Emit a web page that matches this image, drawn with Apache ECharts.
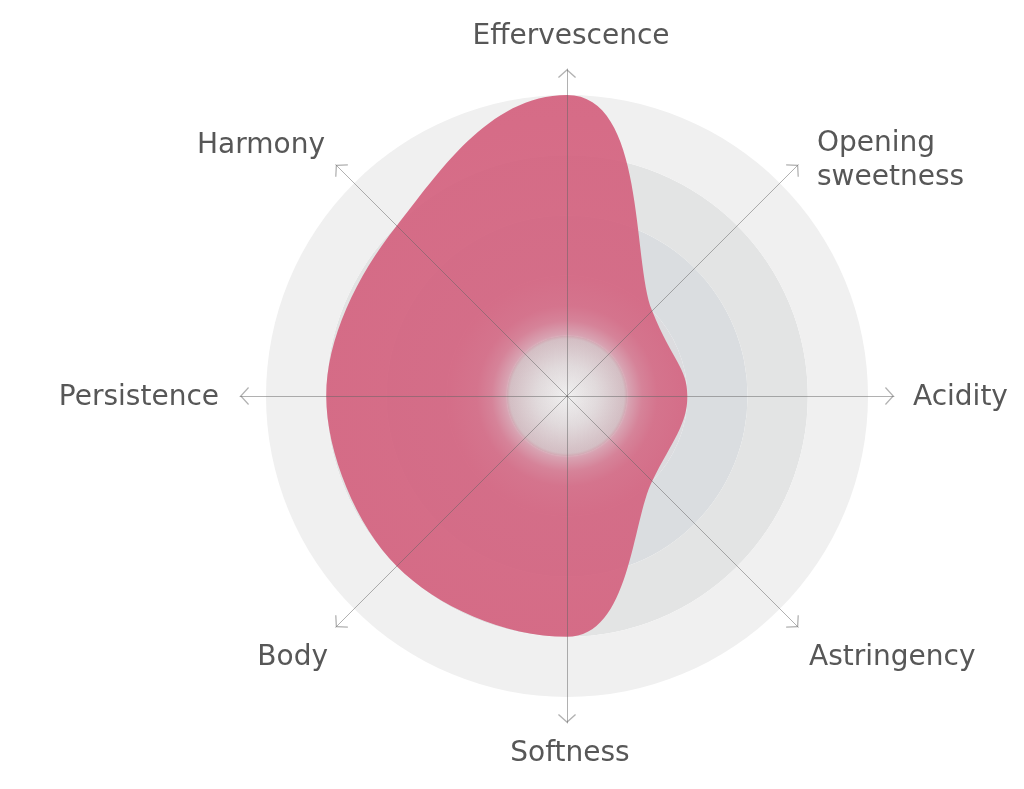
<!DOCTYPE html>
<html><head><meta charset="utf-8">
<script src="https://cdn.jsdelivr.net/npm/echarts@6/dist/echarts.min.js"></script>
<style>html,body{margin:0;background:#fff}#c{width:1024px;height:789px}</style>
</head><body><div id="c"></div>
<script>
// ---- data ----
const categories = ['Effervescence', 'Opening\nsweetness', 'Acidity', 'Astringency', 'Softness', 'Body', 'Persistence', 'Harmony'];
const values = [5, 2, 2, 2, 4, 4, 4, 4];
const maxValue = 5;
const ringColors = ['#d9d9d9', '#dcdcdf', '#dadde0', '#e3e4e4', '#f0f0f0'];

// ---- layout ----
const CX = 567, CY = 396, R = 301, AXIS_R = 327;
const labelLayout = [
  [571, 37, 'center'], [817, 161, 'left'], [913, 398, 'left'], [809, 658, 'left'],
  [570, 754, 'center'], [328, 658, 'right'], [219, 398, 'right'], [325, 146, 'right']
];
const PINK = '211,93,123';

const chart = echarts.init(document.getElementById('c'));
const step = 360 / categories.length;
const seriesData = values.map((v, i) => [v, i * step]);

function f(p) { return p[0].toFixed(2) + ',' + p[1].toFixed(2); }

function renderShape(params, api) {
  if (params.dataIndex !== 0) return null;
  const pts = seriesData.map(d => api.coord(d));
  const c = api.coord([0, 0]);
  const edge = api.coord([maxValue, 0]);
  const rad = Math.hypot(edge[0] - c[0], edge[1] - c[1]);
  const n = pts.length;
  const dTheta = 2 * Math.PI / n;
  // tangents: Catmull-Rom, but circular (perpendicular to radius) at peaks
  const tan = pts.map((p, i) => {
    const prev = (i - 1 + n) % n, next = (i + 1) % n;
    const v = values[i], vp = values[prev], vn = values[next];
    if (v >= vp && v >= vn && (v > vp || v > vn)) {
      const rx = p[0] - c[0], ry = p[1] - c[1];
      const len = Math.hypot(rx, ry);
      const mag = len * dTheta;
      return [-ry / len * mag, rx / len * mag];
    }
    return [(pts[next][0] - pts[prev][0]) / 2, (pts[next][1] - pts[prev][1]) / 2];
  });
  let d = 'M' + f(pts[0]);
  for (let i = 0; i < n; i++) {
    const j = (i + 1) % n;
    const c1 = [pts[i][0] + tan[i][0] / 3, pts[i][1] + tan[i][1] / 3];
    const c2 = [pts[j][0] - tan[j][0] / 3, pts[j][1] - tan[j][1] / 3];
    d += 'C' + f(c1) + ' ' + f(c2) + ' ' + f(pts[j]);
  }
  d += 'Z';
  const inner = rad / maxValue;
  return {
    type: 'group',
    children: [
      {
        type: 'circle',
        shape: { cx: c[0], cy: c[1], r: inner },
        style: {
          fill: new echarts.graphic.RadialGradient(c[0], c[1], inner, [
            { offset: 0, color: '#f0f0f0' },
            { offset: 0.6, color: '#dfdfdf' },
            { offset: 1, color: '#d2d2d2' }
          ], true)
        }
      },
      {
        type: 'path',
        shape: { pathData: d },
        style: {
          fill: new echarts.graphic.RadialGradient(c[0], c[1], rad, [
            { offset: 0, color: 'rgba(' + PINK + ',0)' },
            { offset: 0.1, color: 'rgba(' + PINK + ',0.06)' },
            { offset: 0.19, color: 'rgba(' + PINK + ',0.18)' },
            { offset: 0.205, color: 'rgba(' + PINK + ',0.45)' },
            { offset: 0.25, color: 'rgba(' + PINK + ',0.7)' },
            { offset: 0.3, color: 'rgba(' + PINK + ',0.82)' },
            { offset: 0.4, color: 'rgba(' + PINK + ',0.87)' },
            { offset: 1, color: 'rgba(' + PINK + ',0.9)' }
          ], true),
          stroke: null
        }
      }
    ]
  };
}

const chevron = 'path://M0,8.1 L9,0 L18,8.1 L17.1,9 L9,1.7 L0.9,9 Z';

const option = {
  backgroundColor: '#ffffff',
  animation: false,
  polar: { center: [CX, CY], radius: R },
  angleAxis: {
    type: 'value', min: 0, max: 360, interval: step, startAngle: 90, clockwise: true,
    axisLine: { show: false }, axisTick: { show: false }, axisLabel: { show: false }, splitLine: { show: false }
  },
  radiusAxis: {
    type: 'value', min: 0, max: maxValue, interval: 1, z: 1,
    axisLine: { show: false }, axisTick: { show: false }, axisLabel: { show: false }, splitLine: { show: false },
    splitArea: { show: true, areaStyle: { color: ringColors } }
  },
  radar: {
    center: [CX, CY], radius: AXIS_R, shape: 'circle', startAngle: 90, z: 10,
    indicator: categories.map(n => ({ name: n, max: maxValue })),
    axisName: { show: false },
    splitLine: { show: false }, splitArea: { show: false },
    axisTick: { show: false }, axisLabel: { show: false },
    axisLine: {
      show: true,
      lineStyle: { color: 'rgba(100,100,100,0.5)', width: 1 },
      symbol: ['none', chevron], symbolSize: [18, 9], symbolOffset: [0, -4.5]
    }
  },
  series: [{
    type: 'custom', coordinateSystem: 'polar', data: seriesData, renderItem: renderShape, z: 5, silent: true
  }],
  graphic: categories.map((name, i) => ({
    type: 'text',
    x: labelLayout[i][0], y: labelLayout[i][1],
    style: {
      text: name, fill: '#575757', font: '28px "DejaVu Sans"', lineHeight: 34,
      align: labelLayout[i][2], verticalAlign: 'middle'
    }
  }))
};
chart.setOption(option);
</script>
</body></html>
